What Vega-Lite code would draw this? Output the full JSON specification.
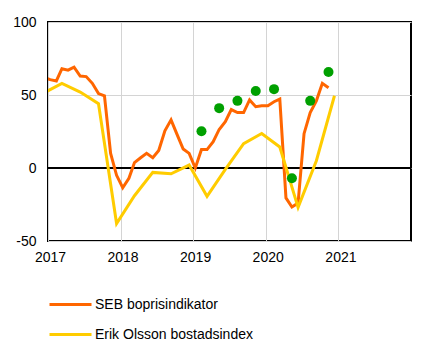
{
  "$schema": "https://vega.github.io/schema/vega-lite/v6.json",
  "width": 363,
  "height": 219,
  "autosize": "none",
  "padding": {"left": 48, "top": 22, "right": 23, "bottom": 111},
  "config": {
    "view": {"stroke": "black", "strokeWidth": 2},
    "font": "Liberation Sans",
    "axis": {"labelFont": "Liberation Sans", "labelFontSize": 14, "labelColor": "black", "domain": false, "ticks": false, "gridColor": "#D4D4D4", "gridWidth": 1}
  },
  "data": {
    "values": [
      {"date": "2016-12-12", "value": 62, "series": "SEB boprisindikator"},
      {"date": "2017-01-12", "value": 60.5, "series": "SEB boprisindikator"},
      {"date": "2017-02-12", "value": 59.6, "series": "SEB boprisindikator"},
      {"date": "2017-03-12", "value": 68, "series": "SEB boprisindikator"},
      {"date": "2017-04-12", "value": 67, "series": "SEB boprisindikator"},
      {"date": "2017-05-12", "value": 69, "series": "SEB boprisindikator"},
      {"date": "2017-06-12", "value": 63, "series": "SEB boprisindikator"},
      {"date": "2017-07-12", "value": 62.6, "series": "SEB boprisindikator"},
      {"date": "2017-08-12", "value": 58, "series": "SEB boprisindikator"},
      {"date": "2017-09-12", "value": 51, "series": "SEB boprisindikator"},
      {"date": "2017-10-12", "value": 49.5, "series": "SEB boprisindikator"},
      {"date": "2017-11-12", "value": 10, "series": "SEB boprisindikator"},
      {"date": "2017-12-12", "value": -5, "series": "SEB boprisindikator"},
      {"date": "2018-01-12", "value": -13.5, "series": "SEB boprisindikator"},
      {"date": "2018-02-12", "value": -7, "series": "SEB boprisindikator"},
      {"date": "2018-03-12", "value": 3.7, "series": "SEB boprisindikator"},
      {"date": "2018-04-12", "value": 7, "series": "SEB boprisindikator"},
      {"date": "2018-05-12", "value": 10, "series": "SEB boprisindikator"},
      {"date": "2018-06-12", "value": 7, "series": "SEB boprisindikator"},
      {"date": "2018-07-12", "value": 12, "series": "SEB boprisindikator"},
      {"date": "2018-08-12", "value": 25.5, "series": "SEB boprisindikator"},
      {"date": "2018-09-12", "value": 33, "series": "SEB boprisindikator"},
      {"date": "2018-10-12", "value": 23, "series": "SEB boprisindikator"},
      {"date": "2018-11-12", "value": 13, "series": "SEB boprisindikator"},
      {"date": "2018-12-12", "value": 10, "series": "SEB boprisindikator"},
      {"date": "2019-01-12", "value": 0, "series": "SEB boprisindikator"},
      {"date": "2019-02-12", "value": 12.6, "series": "SEB boprisindikator"},
      {"date": "2019-03-12", "value": 12.6, "series": "SEB boprisindikator"},
      {"date": "2019-04-12", "value": 18, "series": "SEB boprisindikator"},
      {"date": "2019-05-12", "value": 26.4, "series": "SEB boprisindikator"},
      {"date": "2019-06-12", "value": 31.7, "series": "SEB boprisindikator"},
      {"date": "2019-07-12", "value": 40, "series": "SEB boprisindikator"},
      {"date": "2019-08-12", "value": 38, "series": "SEB boprisindikator"},
      {"date": "2019-09-12", "value": 38, "series": "SEB boprisindikator"},
      {"date": "2019-10-12", "value": 46.6, "series": "SEB boprisindikator"},
      {"date": "2019-11-12", "value": 42, "series": "SEB boprisindikator"},
      {"date": "2019-12-12", "value": 42.7, "series": "SEB boprisindikator"},
      {"date": "2020-01-12", "value": 42.7, "series": "SEB boprisindikator"},
      {"date": "2020-02-12", "value": 45.4, "series": "SEB boprisindikator"},
      {"date": "2020-03-12", "value": 47.2, "series": "SEB boprisindikator"},
      {"date": "2020-04-12", "value": -20.5, "series": "SEB boprisindikator"},
      {"date": "2020-05-12", "value": -26.7, "series": "SEB boprisindikator"},
      {"date": "2020-06-12", "value": -24, "series": "SEB boprisindikator"},
      {"date": "2020-07-12", "value": 23.5, "series": "SEB boprisindikator"},
      {"date": "2020-08-12", "value": 38, "series": "SEB boprisindikator"},
      {"date": "2020-09-12", "value": 46, "series": "SEB boprisindikator"},
      {"date": "2020-10-12", "value": 58, "series": "SEB boprisindikator"},
      {"date": "2020-11-12", "value": 55, "series": "SEB boprisindikator"},
      {"date": "2016-12-12", "value": 51.5, "series": "Erik Olsson bostadsindex"},
      {"date": "2017-03-12", "value": 58, "series": "Erik Olsson bostadsindex"},
      {"date": "2017-06-12", "value": 52, "series": "Erik Olsson bostadsindex"},
      {"date": "2017-09-12", "value": 44, "series": "Erik Olsson bostadsindex"},
      {"date": "2017-12-12", "value": -38, "series": "Erik Olsson bostadsindex"},
      {"date": "2018-03-12", "value": -19, "series": "Erik Olsson bostadsindex"},
      {"date": "2018-06-12", "value": -3, "series": "Erik Olsson bostadsindex"},
      {"date": "2018-09-12", "value": -4, "series": "Erik Olsson bostadsindex"},
      {"date": "2018-12-12", "value": 2, "series": "Erik Olsson bostadsindex"},
      {"date": "2019-03-12", "value": -19.4, "series": "Erik Olsson bostadsindex"},
      {"date": "2019-06-12", "value": -1, "series": "Erik Olsson bostadsindex"},
      {"date": "2019-09-12", "value": 16.7, "series": "Erik Olsson bostadsindex"},
      {"date": "2019-12-12", "value": 23.6, "series": "Erik Olsson bostadsindex"},
      {"date": "2020-03-12", "value": 14.4, "series": "Erik Olsson bostadsindex"},
      {"date": "2020-06-12", "value": -27, "series": "Erik Olsson bostadsindex"},
      {"date": "2020-09-12", "value": 5, "series": "Erik Olsson bostadsindex"},
      {"date": "2020-12-12", "value": 49.5, "series": "Erik Olsson bostadsindex"},
      {"date": "2019-02-12", "value": 25.2, "series": "SBAB Booli boprisindikator (HPE)"},
      {"date": "2019-05-12", "value": 41, "series": "SBAB Booli boprisindikator (HPE)"},
      {"date": "2019-08-12", "value": 46, "series": "SBAB Booli boprisindikator (HPE)"},
      {"date": "2019-11-12", "value": 52.7, "series": "SBAB Booli boprisindikator (HPE)"},
      {"date": "2020-02-12", "value": 54, "series": "SBAB Booli boprisindikator (HPE)"},
      {"date": "2020-05-12", "value": -7, "series": "SBAB Booli boprisindikator (HPE)"},
      {"date": "2020-08-12", "value": 46, "series": "SBAB Booli boprisindikator (HPE)"},
      {"date": "2020-11-12", "value": 65.7, "series": "SBAB Booli boprisindikator (HPE)"}
    ]
  },
  "layer": [
    {
      "mark": {"type": "rule", "color": "black", "strokeWidth": 2},
      "encoding": {"y": {"datum": 0, "type": "quantitative"}}
    },
    {
      "encoding": {
        "x": {
          "field": "date",
          "type": "temporal",
          "title": null,
          "scale": {"type": "utc", "domain": [{"year": 2017, "month": 1, "date": 1, "utc": true}, {"year": 2022, "month": 1, "date": 1, "utc": true}]},
          "axis": {
            "values": [
              {"year": 2017, "month": 1, "date": 1, "utc": true},
              {"year": 2018, "month": 1, "date": 1, "utc": true},
              {"year": 2019, "month": 1, "date": 1, "utc": true},
              {"year": 2020, "month": 1, "date": 1, "utc": true},
              {"year": 2021, "month": 1, "date": 1, "utc": true}
            ],
            "format": "%Y",
            "labelPadding": 9,
            "labelOffset": 2,
            "labelFlush": false,
            "grid": true
          }
        },
        "y": {
          "field": "value",
          "type": "quantitative",
          "title": null,
          "scale": {"domain": [-50, 100], "nice": false, "zero": false},
          "axis": {
            "values": [-50, 0, 50, 100],
            "labelExpr": "'' + datum.value",
            "labelPadding": 12,
            "grid": true
          }
        },
        "color": {
          "field": "series",
          "type": "nominal",
          "scale": {
            "domain": ["SEB boprisindikator", "Erik Olsson bostadsindex", "SBAB Booli boprisindikator (HPE)"],
            "range": ["#FF6600", "#FFCC00", "#00A000"]
          },
          "legend": {
            "orient": "bottom",
            "direction": "vertical",
            "title": null,
            "offset": 18,
            "symbolType": "stroke",
            "symbolSize": 1764,
            "symbolStrokeWidth": 3,
            "labelFont": "Liberation Sans",
            "labelFontSize": 14,
            "labelColor": "black",
            "labelOffset": 2,
            "rowPadding": 0
          }
        }
      },
      "layer": [
        {
          "transform": [{"filter": "datum.series !== 'SBAB Booli boprisindikator (HPE)'"}],
          "mark": {"type": "line", "strokeWidth": 3, "clip": true}
        },
        {
          "transform": [{"filter": "datum.series === 'SBAB Booli boprisindikator (HPE)'"}],
          "mark": {"type": "point", "filled": true, "size": 100, "opacity": 1, "strokeWidth": 0}
        }
      ]
    }
  ]
}
